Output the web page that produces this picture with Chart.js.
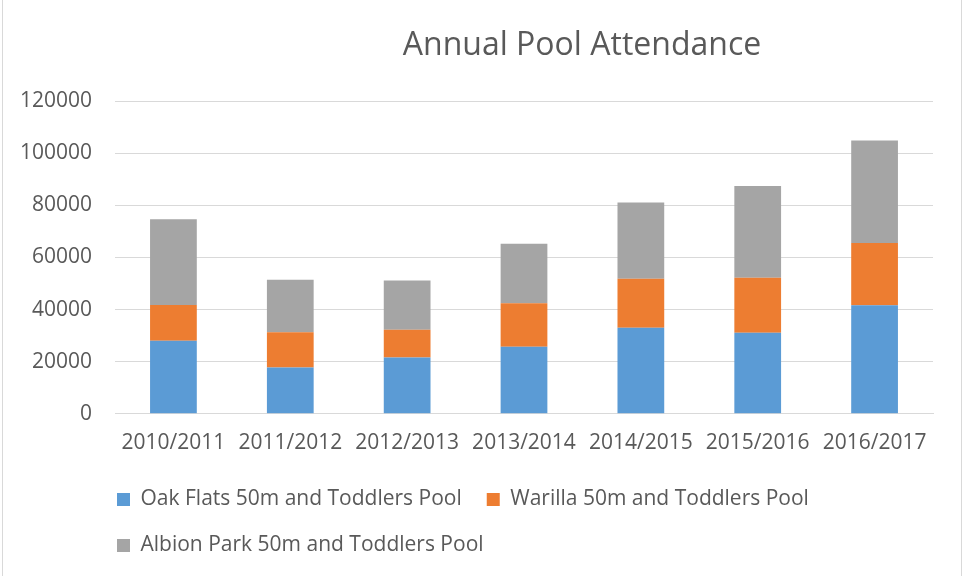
<!DOCTYPE html>
<html>
<head>
<meta charset="utf-8">
<title>Annual Pool Attendance</title>
<script src="https://cdn.jsdelivr.net/npm/chart.js@4"></script>
<style>
  body { margin: 0; background: #fff; }
  canvas { display: block; }
</style>
</head>
<body>
<canvas id="myChart" width="963" height="576"></canvas>
<script>
const labels = [
    '2010/2011',
    '2011/2012',
    '2012/2013',
    '2013/2014',
    '2014/2015',
    '2015/2016',
    '2016/2017',
  ];

const oakFlats = [28000, 17800, 21600, 25700, 33000, 31100, 41600];
const warilla = [13700, 13500, 10600, 16700, 18800, 21100, 23900];
const albionPark = [32900, 20100, 18900, 22800, 29300, 35200, 39300];

const seriesNames = [
    'Oak Flats 50m and Toddlers Pool',
    'Warilla 50m and Toddlers Pool',
    'Albion Park 50m and Toddlers Pool',
  ];

const yMin = 0;
const yMax = 120000;
const yStep = 20000;

const chartTitle = 'Annual Pool Attendance';
const textColor = '#595959';
const fontFamily = "'Open Sans', 'Liberation Sans', sans-serif";

// title sits right of centre in the original, so it is drawn by hand
const titlePlugin = {
    id: 'offsetTitle',
    afterDraw(chart) {
      const ctx = chart.ctx;
      ctx.save();
      ctx.font = '32px ' + fontFamily;
      ctx.fillStyle = textColor;
      ctx.textAlign = 'center';
      ctx.textBaseline = 'alphabetic';
      ctx.fillText(chartTitle, 582, 55);
      ctx.restore();
    }
  };

// thin frame lines like the spreadsheet chart box
const framePlugin = {
    id: 'frame',
    beforeDraw(chart) {
      const ctx = chart.ctx;
      ctx.save();
      ctx.strokeStyle = '#d9d9d9';
      ctx.lineWidth = 1;
      ctx.beginPath();
      ctx.moveTo(2.5, 0);
      ctx.lineTo(2.5, chart.height);
      ctx.moveTo(961.5, 0);
      ctx.lineTo(961.5, chart.height);
      ctx.stroke();
      ctx.restore();
    }
  };

// legend starts under the plot area, not at the canvas edge
const legendShift = {
    id: 'legendShift',
    afterLayout(chart) {
      const lg = chart.legend;
      lg.left = chart.chartArea.left + 2 - lg.options.labels.padding;
    }
  };

const data = {
    labels: labels,
    datasets: [{
      label: seriesNames[0],
      backgroundColor: '#5B9BD5',
      data: oakFlats,
    }, {
      label: seriesNames[1],
      backgroundColor: '#ED7D31',
      data: warilla,
    }, {
      label: seriesNames[2],
      backgroundColor: '#A5A5A5',
      data: albionPark,
    }]
  };

const config = {
    type: 'bar',
    data: data,
    options: {
      responsive: false,
      animation: false,
      barPercentage: 0.4,
      categoryPercentage: 1,
      layout: {
        padding: { top: 101, left: 21, right: 30, bottom: 10 }
      },
      scales: {
        x: {
          stacked: true,
          grid: { display: false, drawTicks: false },
          border: { display: true, color: '#d9d9d9', width: 1 },
          ticks: {
            color: textColor,
            padding: 17,
            maxRotation: 0,
            font: { family: fontFamily, size: 21 }
          },
          afterFit: function(scale) {
            scale.height -= 9;
            scale.paddingLeft = 0;
            scale.paddingRight = 0;
          }
        },
        y: {
          stacked: true,
          min: yMin,
          max: yMax,
          grid: { color: '#d9d9d9', drawTicks: false },
          border: { display: false },
          ticks: {
            stepSize: yStep,
            color: textColor,
            padding: 23,
            font: { family: fontFamily, size: 21 },
            callback: function(value) { return String(value); }
          },
          afterFit: function(scale) { scale.width = 94; }
        }
      },
      plugins: {
        title: { display: false },
        tooltip: { enabled: false },
        legend: {
          position: 'bottom',
          align: 'start',
          labels: {
            color: textColor,
            boxWidth: 13,
            boxHeight: 13,
            padding: 25,
            font: { family: fontFamily, size: 21 }
          }
        }
      }
    },
    plugins: [framePlugin, titlePlugin, legendShift]
  };

const myChart = new Chart(
    document.getElementById('myChart'),
    config
  );
</script>
</body>
</html>
